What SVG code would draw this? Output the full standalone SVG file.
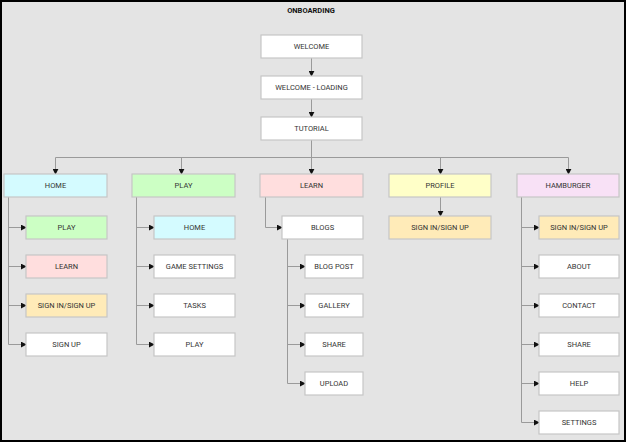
<svg xmlns="http://www.w3.org/2000/svg" width="626" height="442" viewBox="0 0 626 442">
<style>
.bg{fill:#e4e4e4;stroke:#000;stroke-width:2}
.n rect{stroke:#c6c6c6;stroke-width:1.2}
.w{fill:#fff}.cy{fill:#d4fbff}.gr{fill:#ccffc4}.pk{fill:#ffdede}.ye{fill:#ffffc8}.or{fill:#ffebb8}.pu{fill:#f8e1f6}
text{font-family:Roboto,"Liberation Sans",sans-serif;font-size:7.5px;fill:#333;text-anchor:middle;dominant-baseline:central}
.t{font-weight:bold;fill:#111;font-size:7.5px}
.c path{fill:none;stroke:#9a9a9a;stroke-width:1;marker-end:url(#a)}
.c path.p{marker-end:none}
</style>
<defs>
<marker id="a" viewBox="0 0 8 8" refX="7" refY="4" markerWidth="6" markerHeight="6" markerUnits="userSpaceOnUse" orient="auto">
<path d="M0,0L8,4L0,8Z" fill="#111"/>
</marker>
</defs>
<rect class="bg" x="1" y="1" width="624" height="440"/>
<text class="t" x="311" y="10">ONBOARDING</text>
<g class="c" id="connectors">
<path d="M311.5,58V76"/>
<path d="M311.5,99V117"/>
<path class="p" d="M311.5,140V157.5M55.5,157.5H568.5"/>
<path d="M55.5,157.5V174"/>
<path d="M181.5,157.5V174"/>
<path d="M311.5,157.5V174"/>
<path d="M440.5,157.5V174"/>
<path d="M568.5,157.5V174"/>
<path class="p" d="M8.5,197V344.5"/>
<path d="M8.5,227.5H26"/><path d="M8.5,266.5H26"/><path d="M8.5,305.5H26"/><path d="M8.5,344.5H26"/>
<path class="p" d="M136.5,197V344.5"/>
<path d="M136.5,227.5H154"/><path d="M136.5,266.5H154"/><path d="M136.5,305.5H154"/><path d="M136.5,344.5H154"/>
<path d="M265.5,197V227.5H282"/>
<path class="p" d="M287.5,239V383.5"/>
<path d="M287.5,266.5H305"/><path d="M287.5,305.5H305"/><path d="M287.5,344.5H305"/><path d="M287.5,383.5H305"/>
<path d="M440.5,197V216"/>
<path class="p" d="M521.5,197V422.5"/>
<path d="M521.5,227.5H539"/><path d="M521.5,266.5H539"/><path d="M521.5,305.5H539"/><path d="M521.5,344.5H539"/><path d="M521.5,383.5H539"/><path d="M521.5,422.5H539"/>
</g>
<g class="n" id="welcome"><rect class="w" x="261" y="35" width="101" height="23"/><text x="311.5" y="46.5">WELCOME</text></g>
<g class="n" id="welcome-loading"><rect class="w" x="261" y="76" width="101" height="23"/><text x="311.5" y="87.5">WELCOME - LOADING</text></g>
<g class="n" id="tutorial"><rect class="w" x="261" y="117" width="101" height="23"/><text x="311.5" y="128.5">TUTORIAL</text></g>

<g class="n" id="home"><rect class="cy" x="4" y="174" width="103" height="23"/><text x="55.5" y="185.5">HOME</text></g>
<g class="n" id="home-play"><rect class="gr" x="26" y="216" width="81" height="23"/><text x="66.5" y="227.5">PLAY</text></g>
<g class="n" id="home-learn"><rect class="pk" x="26" y="255" width="81" height="23"/><text x="66.5" y="266.5">LEARN</text></g>
<g class="n" id="home-signin"><rect class="or" x="26" y="294" width="81" height="23"/><text x="66.5" y="305.5">SIGN IN/SIGN UP</text></g>
<g class="n" id="home-signup"><rect class="w" x="26" y="333" width="81" height="23"/><text x="66.5" y="344.5">SIGN UP</text></g>

<g class="n" id="play"><rect class="gr" x="132" y="174" width="103" height="23"/><text x="183.5" y="185.5">PLAY</text></g>
<g class="n" id="play-home"><rect class="cy" x="154" y="216" width="81" height="23"/><text x="194.5" y="227.5">HOME</text></g>
<g class="n" id="play-settings"><rect class="w" x="154" y="255" width="81" height="23"/><text x="194.5" y="266.5">GAME SETTINGS</text></g>
<g class="n" id="play-tasks"><rect class="w" x="154" y="294" width="81" height="23"/><text x="194.5" y="305.5">TASKS</text></g>
<g class="n" id="play-play"><rect class="w" x="154" y="333" width="81" height="23"/><text x="194.5" y="344.5">PLAY</text></g>

<g class="n" id="learn"><rect class="pk" x="260" y="174" width="103" height="23"/><text x="311.5" y="185.5">LEARN</text></g>
<g class="n" id="blogs"><rect class="w" x="282" y="216" width="81" height="23"/><text x="322.5" y="227.5">BLOGS</text></g>
<g class="n" id="blog-post"><rect class="w" x="305" y="255" width="58" height="23"/><text x="334" y="266.5">BLOG POST</text></g>
<g class="n" id="gallery"><rect class="w" x="305" y="294" width="58" height="23"/><text x="334" y="305.5">GALLERY</text></g>
<g class="n" id="learn-share"><rect class="w" x="305" y="333" width="58" height="23"/><text x="334" y="344.5">SHARE</text></g>
<g class="n" id="upload"><rect class="w" x="305" y="372" width="58" height="23"/><text x="334" y="383.5">UPLOAD</text></g>

<g class="n" id="profile"><rect class="ye" x="389" y="174" width="102" height="23"/><text x="440" y="185.5">PROFILE</text></g>
<g class="n" id="profile-signin"><rect class="or" x="389" y="216" width="102" height="23"/><text x="440" y="227.5">SIGN IN/SIGN UP</text></g>

<g class="n" id="hamburger"><rect class="pu" x="517" y="174" width="102" height="23"/><text x="568" y="185.5">HAMBURGER</text></g>
<g class="n" id="ham-signin"><rect class="or" x="539" y="216" width="80" height="23"/><text x="579" y="227.5">SIGN IN/SIGN UP</text></g>
<g class="n" id="about"><rect class="w" x="539" y="255" width="80" height="23"/><text x="579" y="266.5">ABOUT</text></g>
<g class="n" id="contact"><rect class="w" x="539" y="294" width="80" height="23"/><text x="579" y="305.5">CONTACT</text></g>
<g class="n" id="ham-share"><rect class="w" x="539" y="333" width="80" height="23"/><text x="579" y="344.5">SHARE</text></g>
<g class="n" id="help"><rect class="w" x="539" y="372" width="80" height="23"/><text x="579" y="383.5">HELP</text></g>
<g class="n" id="settings"><rect class="w" x="539" y="411" width="80" height="23"/><text x="579" y="422.5">SETTINGS</text></g>
</svg>
